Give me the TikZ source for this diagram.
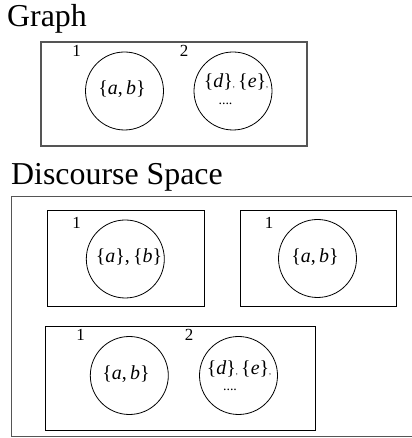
\documentclass[tikz,border=0pt]{standalone}
\usepackage{fontspec}
\setmainfont{Liberation Serif}
\usetikzlibrary{positioning}
\definecolor{frameline}{RGB}{85,85,85}
\tikzset{
  outerbox/.style={
    rectangle, draw=frameline, line width=1.1bp, inner sep=0pt
  },
  setbox/.style={
    rectangle, draw=black, line width=0.8bp, inner sep=0pt
  },
  blob/.style={
    circle, draw=black, line width=0.8bp,
    minimum size=78bp, inner sep=0pt
  },
  idx/.style={font=\fontsize{17}{17}\selectfont, inner sep=0pt},
  elems/.style={font=\fontsize{20}{24}\selectfont, inner sep=0pt},
  more/.style={font=\fontsize{14}{14}\selectfont, inner sep=0pt},
  heading/.style={font=\fontsize{32}{36}\selectfont, inner sep=0pt, anchor=base west},
}
\newcommand{\elt}[1]{\textit{#1}}
\newcommand{\tinycomma}{{\fontsize{8}{8}\selectfont ,}}

\begin{document}
\begin{tikzpicture}[x=1bp, y=1bp]
    \useasboundingbox (0,0) rectangle (411,438);

    \node[heading] (gtitle) at (7,411) {Graph};
    \node[outerbox, minimum width=266bp, minimum height=104bp] (graph) at (174,344) {};
    \node[idx] (g1no) at (76.5,387.5) {1};
    \node[idx] (g2no) at (184,387.5) {2};
    \node[blob] (g1) at (124.5,347) {};
    \node[blob] (g2) at (233,347) {};
    \node[elems] (g1txt) at (122,349) {\{\elt{a},\,\elt{b}\}};
    \node[elems] (g2txt) at (236,356.5) {\{\elt{d}\}\tinycomma\,\{\elt{e}\}\tinycomma};
    \node[more]  (g2dot) at (225.5,334.5) {....};

    \node[heading] (dtitle) at (11,253) {Discourse Space};
    \node[outerbox, minimum width=420bp, minimum height=240bp] (space) at (221.7,121.3) {};

    \node[setbox, minimum width=156.7bp, minimum height=96bp] (boxa) at (125.6,180) {};
    \node[idx] (a1no) at (76.5,215.5) {1};
    \node[blob] (a1) at (125.3,179) {};
    \node[elems] (a1txt) at (129,180.5) {\{\elt{a}\},\,\{\elt{b}\}};

    \node[setbox, minimum width=156.7bp, minimum height=96bp] (boxb) at (318.4,179.3) {};
    \node[idx] (b1no) at (269,215.5) {1};
    \node[blob] (b1) at (317.5,179.5) {};
    \node[elems] (b1txt) at (315,181) {\{\elt{a},\,\elt{b}\}};

    \node[setbox, minimum width=270.3bp, minimum height=104bp] (boxc) at (180.2,60) {};
    \node[idx] (c1no) at (80.5,103.5) {1};
    \node[idx] (c2no) at (189,103.5) {2};
    \node[blob] (c1) at (129.3,62.5) {};
    \node[blob] (c2) at (238.5,62.5) {};
    \node[elems] (c1txt) at (126,64) {\{\elt{a},\,\elt{b}\}};
    \node[elems] (c2txt) at (239,69.5) {\{\elt{d}\}\tinycomma\,\{\elt{e}\}\tinycomma};
    \node[more]  (c2dot) at (230,48) {....};
  \end{tikzpicture}
\end{document}
